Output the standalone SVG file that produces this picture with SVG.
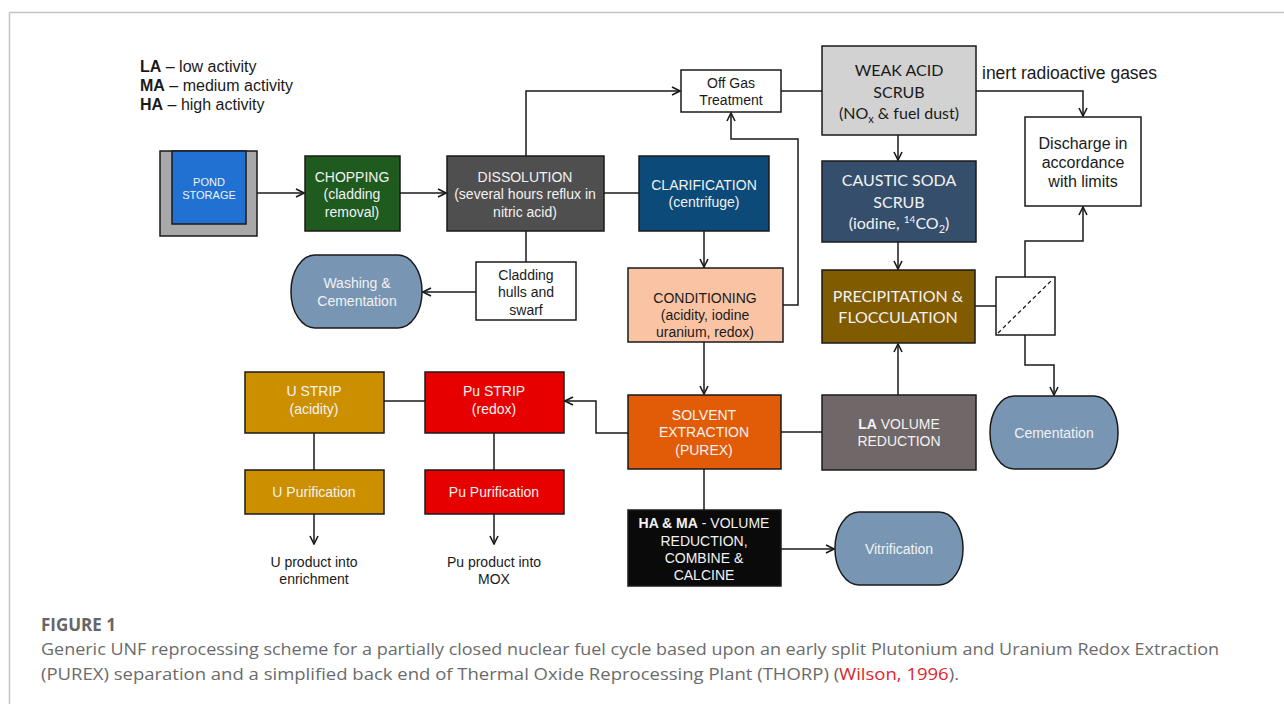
<svg xmlns="http://www.w3.org/2000/svg" width="1284" height="704" viewBox="0 0 1284 704">
<style>
.bx{stroke:#1a1a1a;stroke-width:1.5}
.t{font-family:"Liberation Sans",Arial,sans-serif;font-size:14px;text-anchor:middle}
.s11{font-size:11px}
.s16{font-size:16px}
.w{fill:#f2f2f2}
.k{fill:#1a1a1a}
.c{font-family:Lato,"Liberation Sans",sans-serif;text-anchor:middle}
.ln{fill:none;stroke:#1a1a1a;stroke-width:1.5}
.cap{font-family:"Open Sans","Liberation Sans",sans-serif;font-size:16px;fill:#6b6b6b}
</style>
<defs>
<marker id="ah" viewBox="0 0 10 10" refX="9" refY="5" markerWidth="10" markerHeight="10" markerUnits="userSpaceOnUse" orient="auto">
<path d="M1,1 L9,5 L1,9" fill="none" stroke="#1a1a1a" stroke-width="1.6"/>
</marker>
</defs>
<rect width="1284" height="704" fill="#fff"/>
<path d="M9.5,704 V12.5 H1284" fill="none" stroke="#c4c4c4" stroke-width="1.5"/>

<g id="legend" font-family="Liberation Sans,Arial,sans-serif" font-size="16" fill="#1a1a1a">
<text x="140" y="72"><tspan font-weight="bold">LA</tspan> – low activity</text>
<text x="140" y="91"><tspan font-weight="bold">MA</tspan> – medium activity</text>
<text x="140" y="110"><tspan font-weight="bold">HA</tspan> – high activity</text>
</g>

<g id="connectors">
<path class="ln" d="M257,193 H304" marker-end="url(#ah)"/>
<path class="ln" d="M400,193 H446" marker-end="url(#ah)"/>
<path class="ln" d="M604,193 H639"/>
<path class="ln" d="M526,156 V91 H680" marker-end="url(#ah)"/>
<path class="ln" d="M781,91 H822"/>
<path class="ln" d="M976,91 H1083 V116" marker-end="url(#ah)"/>
<path class="ln" d="M898,135 V160" marker-end="url(#ah)"/>
<path class="ln" d="M898,242 V269" marker-end="url(#ah)"/>
<path class="ln" d="M975,306 H996"/>
<path class="ln" d="M1025,277 V241 H1083 V207" marker-end="url(#ah)"/>
<path class="ln" d="M1025,335 V365 H1054 V395" marker-end="url(#ah)"/>
<path class="ln" d="M898,395 V344" marker-end="url(#ah)"/>
<path class="ln" d="M781,432 H822"/>
<path class="ln" d="M526,231 V262"/>
<path class="ln" d="M476,292 H423" marker-end="url(#ah)"/>
<path class="ln" d="M704,231 V267" marker-end="url(#ah)"/>
<path class="ln" d="M783,305 H798 V139 H731 V113" marker-end="url(#ah)"/>
<path class="ln" d="M704,342 V394" marker-end="url(#ah)"/>
<path class="ln" d="M628,433 H596 V401 H565" marker-end="url(#ah)"/>
<path class="ln" d="M384,401 H425"/>
<path class="ln" d="M314,433 V470"/>
<path class="ln" d="M494,433 V470"/>
<path class="ln" d="M314,514 V544" marker-end="url(#ah)"/>
<path class="ln" d="M494,514 V544" marker-end="url(#ah)"/>
<path class="ln" d="M704,469 V510"/>
<path class="ln" d="M781,549 H834" marker-end="url(#ah)"/>
</g>

<g id="pond">
<rect class="bx" x="160" y="151" width="97" height="85" fill="#a8a8a8"/>
<rect class="bx" x="172" y="151" width="74" height="73" fill="#2071d2"/>
<text class="t w s11" x="209" y="186">POND</text>
<text class="t w s11" x="209" y="199">STORAGE</text>
</g>

<g id="chopping">
<rect class="bx" x="305" y="156" width="95" height="75" fill="#1f5a1f"/>
<text class="t w" x="352" y="182">CHOPPING</text>
<text class="t w" x="352" y="199">(cladding</text>
<text class="t w" x="352" y="217">removal)</text>
</g>

<g id="dissolution">
<rect class="bx" x="447" y="156" width="157" height="75" fill="#4f4f4f"/>
<text class="t w" x="525" y="182">DISSOLUTION</text>
<text class="t w" x="525" y="199">(several hours reflux in</text>
<text class="t w" x="525" y="217">nitric acid)</text>
</g>

<g id="clarification">
<rect class="bx" x="639" y="156" width="130" height="75" fill="#0b4a79"/>
<text class="t w" x="704" y="190">CLARIFICATION</text>
<text class="t w" x="704" y="207">(centrifuge)</text>
</g>

<g id="offgas">
<rect class="bx" x="681" y="70" width="100" height="42" fill="#fff"/>
<text class="t k" x="731" y="88">Off Gas</text>
<text class="t k" x="731" y="105">Treatment</text>
</g>

<g id="weakacid">
<rect class="bx" x="822" y="46" width="154" height="89" fill="#d2d2d2"/>
<text class="c k" x="899" y="76" font-size="16">WEAK ACID</text>
<text class="c k" x="899" y="98" font-size="16">SCRUB</text>
<text class="c k" x="899" y="119" font-size="16">(NO<tspan font-size="11" dy="4">x</tspan><tspan dy="-4"> &amp; fuel dust)</tspan></text>
</g>

<text id="inert" x="982" y="79" font-family="Liberation Sans,Arial,sans-serif" font-size="17.5" fill="#1a1a1a">inert radioactive gases</text>

<g id="discharge">
<rect class="bx" x="1025" y="117" width="116" height="89" fill="#fff"/>
<text class="t k s16" x="1083" y="149">Discharge in</text>
<text class="t k s16" x="1083" y="168">accordance</text>
<text class="t k s16" x="1083" y="187">with limits</text>
</g>

<g id="caustic">
<rect class="bx" x="822" y="161" width="154" height="81" fill="#354e6b"/>
<text class="c w" x="899" y="186" font-size="16">CAUSTIC SODA</text>
<text class="c w" x="899" y="208" font-size="16">SCRUB</text>
<text class="c w" x="899" y="229" font-size="16">(iodine, <tspan font-size="10" dy="-6">14</tspan><tspan dy="6">CO</tspan><tspan font-size="11" dy="4">2</tspan><tspan dy="-4">)</tspan></text>
</g>

<g id="precipitation">
<rect class="bx" x="822" y="270" width="153" height="73" fill="#805b00"/>
<text class="c w" x="898" y="302" font-size="16">PRECIPITATION &amp;</text>
<text class="c w" x="898" y="323" font-size="16">FLOCCULATION</text>
</g>

<g id="filter">
<rect class="bx" x="996" y="277" width="59" height="58" fill="#fff"/>
<path d="M998,333 L1053,279" stroke="#1a1a1a" stroke-width="1.3" stroke-dasharray="4,3"/>
</g>

<g id="cementation">
<rect class="bx" x="990" y="396" width="128" height="73" rx="24" ry="36" fill="#7896b3"/>
<text class="t w" x="1054" y="438">Cementation</text>
</g>

<g id="lavolume">
<rect class="bx" x="822" y="395" width="154" height="75" fill="#706868"/>
<text class="t w" x="899" y="429"><tspan font-weight="bold">LA</tspan> VOLUME</text>
<text class="t w" x="899" y="446">REDUCTION</text>
</g>

<g id="washing">
<rect class="bx" x="291" y="255" width="131" height="73" rx="24" ry="36" fill="#7896b3"/>
<text class="t w" x="357" y="288">Washing &amp;</text>
<text class="t w" x="357" y="306">Cementation</text>
</g>

<g id="cladding">
<rect class="bx" x="476" y="262" width="100" height="58" fill="#fff"/>
<text class="t k" x="526" y="280">Cladding</text>
<text class="t k" x="526" y="297">hulls and</text>
<text class="t k" x="526" y="315">swarf</text>
</g>

<g id="conditioning">
<rect class="bx" x="628" y="268" width="155" height="74" fill="#fac4a4"/>
<text class="t k" x="705" y="303">CONDITIONING</text>
<text class="t k" x="705" y="320">(acidity, iodine</text>
<text class="t k" x="705" y="337">uranium, redox)</text>
</g>

<g id="solvent">
<rect class="bx" x="628" y="395" width="153" height="74" fill="#e25c08"/>
<text class="t w" x="704" y="420">SOLVENT</text>
<text class="t w" x="704" y="437">EXTRACTION</text>
<text class="t w" x="704" y="455">(PUREX)</text>
</g>

<g id="ustrip">
<rect class="bx" x="245" y="372" width="139" height="61" fill="#cc8f00"/>
<text class="t w" x="314" y="396">U STRIP</text>
<text class="t w" x="314" y="414">(acidity)</text>
</g>

<g id="pustrip">
<rect class="bx" x="425" y="372" width="139" height="61" fill="#e60000"/>
<text class="t w" x="494" y="396">Pu STRIP</text>
<text class="t w" x="494" y="414">(redox)</text>
</g>

<g id="upurification">
<rect class="bx" x="245" y="470" width="139" height="44" fill="#cc8f00"/>
<text class="t w" x="314" y="497">U Purification</text>
</g>

<g id="pupurification">
<rect class="bx" x="425" y="470" width="139" height="44" fill="#e60000"/>
<text class="t w" x="494" y="497">Pu Purification</text>
</g>

<g id="hama">
<rect class="bx" x="628" y="510" width="153" height="76" fill="#0a0a0a"/>
<text class="t w" x="704" y="528"><tspan font-weight="bold">HA &amp; MA</tspan> - VOLUME</text>
<text class="t w" x="704" y="546">REDUCTION,</text>
<text class="t w" x="704" y="563">COMBINE &amp;</text>
<text class="t w" x="704" y="580">CALCINE</text>
</g>

<g id="vitrification">
<rect class="bx" x="835" y="512" width="128" height="73" rx="24" ry="36" fill="#7896b3"/>
<text class="t w" x="899" y="554">Vitrification</text>
</g>

<g id="uproduct">
<text class="t k" x="314" y="567">U product into</text>
<text class="t k" x="314" y="584">enrichment</text>
</g>

<g id="puproduct">
<text class="t k" x="494" y="567">Pu product into</text>
<text class="t k" x="494" y="584">MOX</text>
</g>

<g id="caption">
<text x="41" y="631" font-family="Open Sans,Liberation Sans,sans-serif" font-size="17" font-weight="bold" fill="#666">FIGURE 1</text>
<text class="cap" x="41" y="655" textLength="1178" lengthAdjust="spacingAndGlyphs">Generic UNF reprocessing scheme for a partially closed nuclear fuel cycle based upon an early split Plutonium and Uranium Redox Extraction</text>
<text class="cap" x="41" y="680" textLength="918" lengthAdjust="spacingAndGlyphs">(PUREX) separation and a simplified back end of Thermal Oxide Reprocessing Plant (THORP) (<tspan fill="#e0252b">Wilson, 1996</tspan>).</text>
</g>
</svg>
